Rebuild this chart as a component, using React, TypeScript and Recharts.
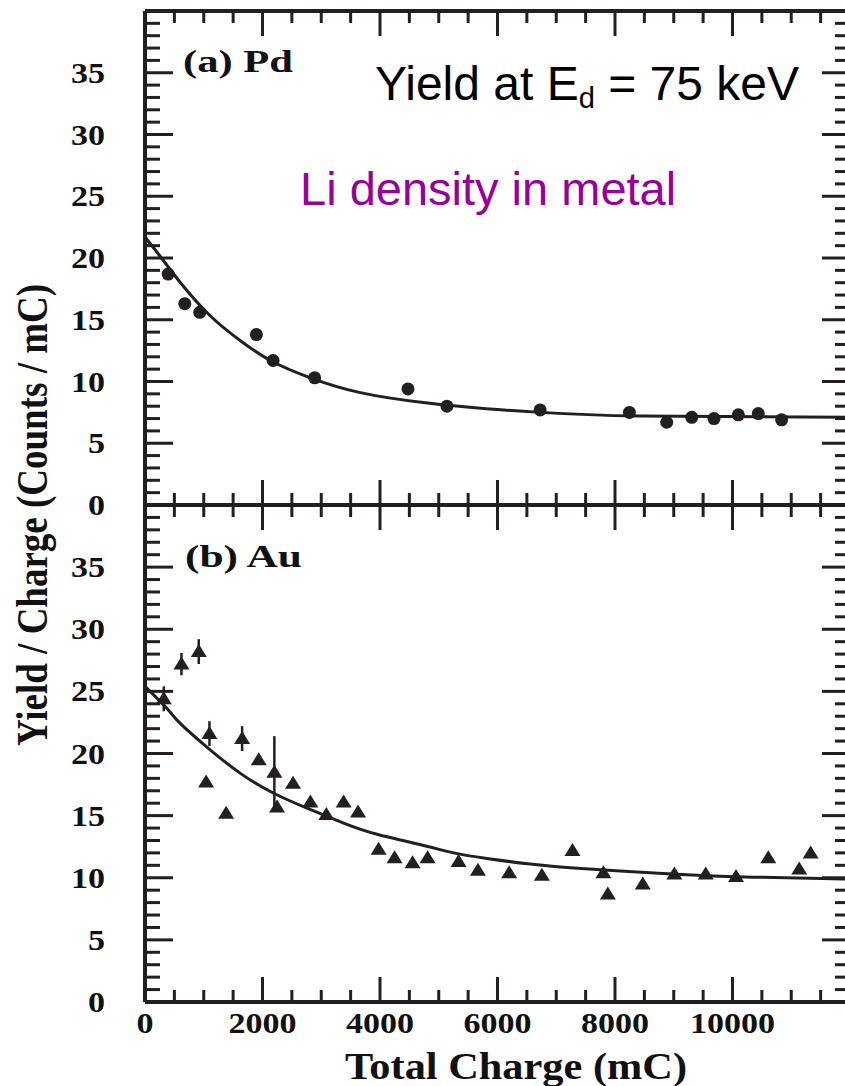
import React from "react";
import { ComposedChart, Scatter, Line, XAxis, YAxis, ErrorBar } from "recharts";

/* ================= DATA ================= */

// (a) Pd
const pdCharge = [394, 677, 932, 1896, 2180, 2888, 4476, 5139, 6726, 8245, 8880, 9306, 9685, 10099, 10439, 10836];
const pdYield = [18.7, 16.3, 15.6, 13.8, 11.7, 10.3, 9.4, 8.0, 7.7, 7.5, 6.7, 7.1, 7.0, 7.3, 7.4, 6.9];

const pdFitCharge = [0, 264, 604, 1114, 1624, 2134, 2815, 3665, 4736, 5808, 6726, 8427, 12000];
const pdFitYield = [21.7, 20.1, 18.0, 15.3, 13.3, 11.7, 10.3, 9.1, 8.3, 7.8, 7.5, 7.2, 7.1];

// (b) Au
const auCharge = [320, 621, 915, 1040, 1097, 1381, 1653, 1936, 2202, 2248, 2520, 2815, 3087, 3381, 3626, 3976, 4248, 4555, 4810, 5337, 5667, 6199, 6755, 7276, 7803, 7878, 8473, 9010, 9544, 10060, 10609, 11136, 11330];
const auYield = [24.4, 27.2, 28.2, 17.7, 21.6, 15.2, 21.2, 19.5, 18.5, 15.7, 17.6, 16.1, 15.1, 16.1, 15.3, 12.3, 11.6, 11.2, 11.6, 11.3, 10.6, 10.4, 10.2, 12.2, 10.4, 8.7, 9.5, 10.3, 10.3, 10.1, 11.6, 10.7, 12.0];
const auErr = [1.0, 0.9, 1.0, 0, 1.0, 0, 1.0, 0, 2.9, 0, 0, 0, 0, 0, 0, 0, 0, 0, 0, 0, 0, 0, 0, 0, 0, 0, 0, 0, 0, 0, 0, 0, 0];

const auFitCharge = [0, 378, 604, 1058, 1624, 2190, 2758, 3381, 3949, 4741, 5252, 5819, 6556, 7236, 8087, 9221, 10354, 12000];
const auFitYield = [25.4, 23.6, 22.4, 20.5, 18.4, 16.8, 15.6, 14.4, 13.5, 12.6, 12.0, 11.55, 11.1, 10.8, 10.55, 10.25, 10.05, 9.9];

// axes
const xDomain = [0, 12000];
const yDomain = [0, 40];
const xLabels = [0, 2000, 4000, 6000, 8000, 10000];
const yLabels = [0, 5, 10, 15, 20, 25, 30, 35];
const xTicks = Array.from({ length: 25 }, (_, i) => i * 500);
const yTicks = Array.from({ length: 41 }, (_, i) => i);

const pdPoints = pdCharge.map((x, i) => ({ x, y: pdYield[i] }));
const pdFit = pdFitCharge.map((x, i) => ({ x, y: pdFitYield[i] }));
const auPoints = auCharge.map((x, i) => ({ x, y: auYield[i], err: auErr[i] }));
const auFit = auFitCharge.map((x, i) => ({ x, y: auFitYield[i] }));

/* ================= STYLE ================= */

const INK = "#231f20";
const SERIF = "'Liberation Serif', 'Times New Roman', serif";
const SANS = "'Liberation Sans', Arial, sans-serif";

/* ================= TICKS ================= */

// ticks point inward, labels outside; tickSize/tickMargin = 0 so x,y sit on the axis line
const xTick = (side: "top" | "bottom", labels: boolean) => (p: any) => {
  const v = p.payload.value;
  const major = v % 2000 === 0;
  const dir = side === "bottom" ? -1 : 1;
  const len = major ? 25 : 12;
  return (
    <g>
      <line x1={p.x} x2={p.x} y1={p.y} y2={p.y + dir * len} stroke={INK} strokeWidth={3} />
      {labels && xLabels.includes(v) && (
        <text
          x={p.x}
          y={p.y + 31}
          textAnchor="middle"
          fontFamily={SERIF}
          fontWeight="bold"
          fontSize={30}
          fill="#111"
          textLength={17 * String(v).length}
          lengthAdjust="spacingAndGlyphs"
        >
          {v}
        </text>
      )}
    </g>
  );
};

const yTick = (side: "left" | "right") => (p: any) => {
  const v = p.payload.value;
  const major = v % 5 === 0;
  const dir = side === "left" ? 1 : -1;
  const len = major ? 28 : 15;
  return (
    <g>
      <line x1={p.x} x2={p.x + dir * len} y1={p.y} y2={p.y} stroke={INK} strokeWidth={3} />
      {side === "left" && yLabels.includes(v) && (
        <text
          x={p.x - 40}
          y={p.y + 10}
          textAnchor="end"
          fontFamily={SERIF}
          fontWeight="bold"
          fontSize={30}
          fill="#111"
          textLength={17 * String(v).length}
          lengthAdjust="spacingAndGlyphs"
        >
          {v}
        </text>
      )}
    </g>
  );
};

const axisLine = { stroke: INK, strokeWidth: 4 };

const frameAxes = (bottomLabels: boolean) => [
  <XAxis
    key="xb"
    dataKey="x"
    type="number"
    domain={xDomain}
    ticks={xTicks}
    interval={0}
    allowDataOverflow
    height={1}
    tickSize={0}
    tickMargin={0}
    tickLine={false}
    axisLine={axisLine}
    tick={xTick("bottom", bottomLabels)}
  />,
  <XAxis
    key="xt"
    xAxisId="top"
    orientation="top"
    dataKey="x"
    type="number"
    domain={xDomain}
    ticks={xTicks}
    interval={0}
    allowDataOverflow
    height={1}
    tickSize={0}
    tickMargin={0}
    tickLine={false}
    axisLine={axisLine}
    tick={xTick("top", false)}
  />,
  <YAxis
    key="yl"
    type="number"
    domain={yDomain}
    ticks={yTicks}
    interval={0}
    allowDataOverflow
    width={1}
    tickSize={0}
    tickMargin={0}
    tickLine={false}
    axisLine={axisLine}
    tick={yTick("left")}
  />,
  <YAxis
    key="yr"
    yAxisId="right"
    orientation="right"
    type="number"
    domain={yDomain}
    ticks={yTicks}
    interval={0}
    allowDataOverflow
    width={1}
    tickSize={0}
    tickMargin={0}
    tickLine={false}
    axisLine={axisLine}
    tick={yTick("right")}
  />,
];

/* ================= MARKERS ================= */

const Dot = (p: any) => <circle cx={p.cx} cy={p.cy} r={6.5} fill={INK} />;

const Triangle = (p: any) => (
  <polygon
    points={`${p.cx},${p.cy - 7.5} ${p.cx - 8},${p.cy + 5.5} ${p.cx + 8},${p.cy + 5.5}`}
    fill={INK}
  />
);

/* ================= APP ================= */

export default function App() {
  return (
    <div style={page}>
      {/* (a) Pd */}
      <div style={{ position: "absolute", left: 0, top: 0 }}>
        <ComposedChart width={852} height={520} margin={{ top: 10, right: 1, bottom: 14, left: 144 }}>
          {frameAxes(false)}
          <Line
            data={pdFit}
            dataKey="y"
            type="natural"
            stroke={INK}
            strokeWidth={3}
            dot={false}
            activeDot={false}
            isAnimationActive={false}
          />
          <Scatter data={pdPoints} dataKey="y" shape={Dot} isAnimationActive={false} />
        </ComposedChart>
      </div>

      {/* (b) Au */}
      <div style={{ position: "absolute", left: 0, top: 490 }}>
        <ComposedChart width={852} height={596} margin={{ top: 14, right: 1, bottom: 83, left: 144 }}>
          {frameAxes(true)}
          <Line
            data={auFit}
            dataKey="y"
            type="natural"
            stroke={INK}
            strokeWidth={3}
            dot={false}
            activeDot={false}
            isAnimationActive={false}
          />
          <Scatter data={auPoints} dataKey="y" shape={Triangle} isAnimationActive={false}>
            <ErrorBar dataKey="err" direction="y" width={0} stroke={INK} strokeWidth={2.5} />
          </Scatter>
        </ComposedChart>
      </div>

      {/* titles and annotations */}
      <svg width={845} height={1086} style={overlay}>
        <text
          transform="translate(47,515) scale(1.2,1) rotate(-90)"
          textAnchor="middle"
          fontFamily={SERIF}
          fontWeight="bold"
          fontSize={37}
          fill="#111"
        >
          Yield / Charge (Counts / mC)
        </text>
        <text
          x={516}
          y={1079}
          textAnchor="middle"
          fontFamily={SERIF}
          fontWeight="bold"
          fontSize={37}
          fill="#111"
          textLength={342}
          lengthAdjust="spacingAndGlyphs"
        >
          Total Charge (mC)
        </text>
        <text x={183} y={72} fontFamily={SERIF} fontWeight="bold" fontSize={32} fill="#111" textLength={110} lengthAdjust="spacingAndGlyphs">
          (a) Pd
        </text>
        <text x={185} y={567} fontFamily={SERIF} fontWeight="bold" fontSize={32} fill="#111" textLength={117} lengthAdjust="spacingAndGlyphs">
          (b) Au
        </text>
        <text x={375} y={100} fontFamily={SANS} fontSize={48} fill="#000">
          Yield at E
          <tspan fontSize={29} dy={8}>d</tspan>
          <tspan dy={-8}> = 75 keV</tspan>
        </text>
        <text x={300} y={205} fontFamily={SANS} fontSize={47} fill="#990099">
          Li density in metal
        </text>
      </svg>
    </div>
  );
}

const page: React.CSSProperties = {
  position: "absolute",
  left: 0,
  top: 0,
  width: 845,
  height: 1086,
  overflow: "hidden",
  background: "#fff",
};

const overlay: React.CSSProperties = {
  position: "absolute",
  left: 0,
  top: 0,
  pointerEvents: "none",
};
